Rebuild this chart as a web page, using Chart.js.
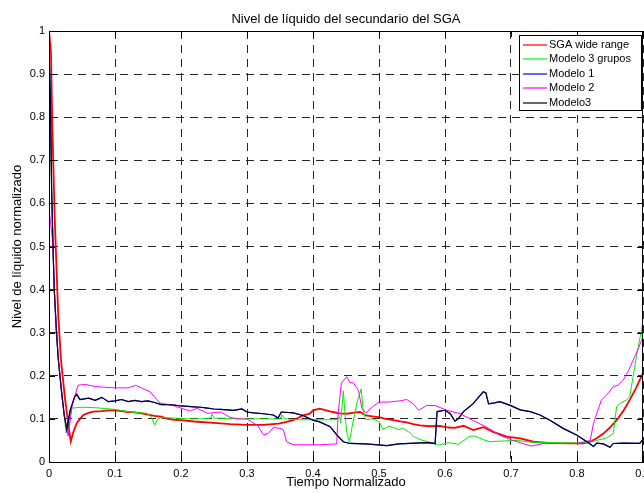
<!DOCTYPE html>
<html>
<head>
<meta charset="utf-8">
<script src="https://cdn.jsdelivr.net/npm/chart.js@4.4.0/dist/chart.umd.min.js"></script>
<style>
html,body{margin:0;padding:0;background:#fff;}
#wrap{width:644px;height:493px;position:relative;}
</style>
</head>
<body>
<div id="wrap"><canvas id="c" width="644" height="493"></canvas></div>
<script>
// ---- Data ----
const chartTitle = 'Nivel de líquido del secundario del SGA';
const xTitle = 'Tiempo Normalizado';
const yTitle = 'Nivel de líquido normalizado';
const seriesNames = ['SGA wide range', 'Modelo 3 grupos', 'Modelo 1', 'Modelo 2', 'Modelo3'];
const xTicks = [0, 0.1, 0.2, 0.3, 0.4, 0.5, 0.6, 0.7, 0.8, 0.9];
const yTicks = [0, 0.1, 0.2, 0.3, 0.4, 0.5, 0.6, 0.7, 0.8, 0.9, 1];

const redT = [0, 0.0015, 0.003, 0.005, 0.009, 0.014, 0.018, 0.024, 0.03, 0.033, 0.037, 0.042, 0.047, 0.052, 0.06, 0.067, 0.08, 0.09, 0.1, 0.11, 0.12, 0.13, 0.14, 0.15, 0.16, 0.17, 0.18, 0.19, 0.2, 0.22, 0.25, 0.275, 0.3, 0.325, 0.348, 0.36, 0.37, 0.385, 0.395, 0.4, 0.41, 0.42, 0.43, 0.44, 0.451, 0.46, 0.471, 0.48, 0.49, 0.5, 0.51, 0.522, 0.532, 0.542, 0.552, 0.562, 0.577, 0.592, 0.605, 0.615, 0.628, 0.643, 0.658, 0.673, 0.693, 0.714, 0.734, 0.76, 0.79, 0.81, 0.82, 0.83, 0.84, 0.85, 0.86, 0.87, 0.88, 0.89, 0.9];
const redV = [1.0, 1.0, 0.95, 0.78, 0.55, 0.34, 0.24, 0.15, 0.08, 0.048, 0.07, 0.09, 0.1, 0.109, 0.114, 0.117, 0.118, 0.12, 0.12, 0.118, 0.116, 0.115, 0.113, 0.11, 0.107, 0.105, 0.1, 0.098, 0.097, 0.094, 0.091, 0.088, 0.086, 0.086, 0.089, 0.093, 0.097, 0.108, 0.112, 0.12, 0.124, 0.12, 0.116, 0.113, 0.112, 0.114, 0.116, 0.108, 0.106, 0.104, 0.1, 0.097, 0.094, 0.092, 0.088, 0.085, 0.083, 0.084, 0.08, 0.079, 0.084, 0.074, 0.081, 0.07, 0.059, 0.055, 0.047, 0.044, 0.043, 0.043, 0.047, 0.055, 0.066, 0.08, 0.097, 0.118, 0.144, 0.173, 0.207];

const greenT = [0, 0.002, 0.004, 0.0066, 0.008, 0.011, 0.014, 0.019, 0.022, 0.026, 0.03, 0.034, 0.05, 0.07, 0.085, 0.1, 0.123, 0.148, 0.155, 0.16, 0.165, 0.17, 0.19, 0.21, 0.23, 0.245, 0.247, 0.25, 0.3, 0.35, 0.353, 0.357, 0.38, 0.43, 0.436, 0.44, 0.442, 0.444, 0.446, 0.448, 0.451, 0.455, 0.459, 0.463, 0.467, 0.471, 0.473, 0.476, 0.48, 0.49, 0.5, 0.506, 0.515, 0.522, 0.53, 0.536, 0.545, 0.552, 0.562, 0.577, 0.59, 0.605, 0.62, 0.638, 0.645, 0.658, 0.668, 0.69, 0.71, 0.73, 0.76, 0.8, 0.82, 0.83, 0.845, 0.855, 0.86, 0.865, 0.875, 0.88, 0.885, 0.89, 0.9];
const greenV = [0.95, 0.85, 0.63, 0.47, 0.40, 0.31, 0.24, 0.16, 0.12, 0.068, 0.08, 0.125, 0.127, 0.126, 0.124, 0.122, 0.116, 0.113, 0.105, 0.086, 0.1, 0.103, 0.102, 0.1, 0.1, 0.102, 0.112, 0.102, 0.1, 0.1, 0.109, 0.1, 0.098, 0.098, 0.098, 0.105, 0.09, 0.13, 0.165, 0.12, 0.07, 0.047, 0.08, 0.11, 0.14, 0.159, 0.17, 0.12, 0.098, 0.1, 0.094, 0.075, 0.083, 0.08, 0.075, 0.078, 0.07, 0.06, 0.052, 0.046, 0.039, 0.045, 0.041, 0.06, 0.06, 0.052, 0.047, 0.049, 0.05, 0.046, 0.045, 0.044, 0.046, 0.05, 0.056, 0.066, 0.128, 0.136, 0.144, 0.152, 0.198, 0.244, 0.325];

const model3T = [0, 0.002, 0.004, 0.0066, 0.008, 0.011, 0.014, 0.019, 0.023, 0.027, 0.032, 0.039, 0.042, 0.047, 0.06, 0.07, 0.08, 0.09, 0.1, 0.11, 0.12, 0.13, 0.14, 0.15, 0.16, 0.17, 0.18, 0.19, 0.2, 0.21, 0.22, 0.23, 0.24, 0.25, 0.26, 0.27, 0.28, 0.292, 0.3, 0.31, 0.325, 0.34, 0.347, 0.352, 0.37, 0.385, 0.4, 0.41, 0.426, 0.436, 0.446, 0.456, 0.48, 0.512, 0.53, 0.572, 0.585, 0.588, 0.6, 0.608, 0.615, 0.62, 0.628, 0.637, 0.643, 0.65, 0.658, 0.662, 0.666, 0.675, 0.683, 0.698, 0.714, 0.729, 0.744, 0.759, 0.779, 0.8, 0.815, 0.825, 0.83, 0.84, 0.85, 0.855, 0.87, 0.895, 0.9];
const model3V = [0.955, 0.85, 0.63, 0.47, 0.40, 0.31, 0.24, 0.164, 0.11, 0.075, 0.12, 0.152, 0.157, 0.145, 0.148, 0.143, 0.15, 0.14, 0.142, 0.145, 0.14, 0.143, 0.14, 0.142, 0.138, 0.133, 0.133, 0.132, 0.13, 0.129, 0.128, 0.127, 0.125, 0.123, 0.122, 0.121, 0.12, 0.123, 0.116, 0.114, 0.112, 0.109, 0.102, 0.116, 0.114, 0.108, 0.097, 0.093, 0.082, 0.063, 0.047, 0.043, 0.042, 0.038, 0.042, 0.045, 0.043, 0.117, 0.12, 0.112, 0.095, 0.1, 0.117, 0.128, 0.136, 0.149, 0.163, 0.16, 0.135, 0.137, 0.14, 0.132, 0.121, 0.117, 0.109, 0.097, 0.078, 0.062, 0.047, 0.036, 0.044, 0.042, 0.034, 0.043, 0.044, 0.043, 0.052];

const model1T = [0, 0.002, 0.004, 0.0066, 0.008, 0.011, 0.014, 0.019, 0.023, 0.027, 0.032, 0.039, 0.042, 0.047, 0.06, 0.07, 0.08, 0.09, 0.1, 0.11, 0.12, 0.13, 0.14, 0.15, 0.16, 0.17, 0.18, 0.19, 0.2, 0.21, 0.22, 0.23, 0.24, 0.25, 0.26, 0.27, 0.28, 0.292, 0.3, 0.31, 0.325, 0.34, 0.347, 0.352, 0.37, 0.385, 0.4, 0.41, 0.426, 0.436, 0.446, 0.456, 0.48, 0.512, 0.53, 0.572, 0.585, 0.588, 0.6, 0.608, 0.615, 0.62, 0.628, 0.637, 0.643, 0.65, 0.658, 0.662, 0.666, 0.675, 0.683, 0.698, 0.714, 0.729, 0.744, 0.759, 0.779, 0.8, 0.815, 0.825, 0.83, 0.84, 0.85, 0.855, 0.87, 0.895, 0.9];
const model1V = [0.96, 0.85, 0.63, 0.47, 0.40, 0.31, 0.24, 0.164, 0.11, 0.075, 0.12, 0.152, 0.157, 0.145, 0.148, 0.143, 0.15, 0.14, 0.142, 0.145, 0.14, 0.143, 0.14, 0.142, 0.138, 0.133, 0.133, 0.132, 0.13, 0.129, 0.128, 0.127, 0.125, 0.123, 0.122, 0.121, 0.12, 0.123, 0.116, 0.114, 0.112, 0.109, 0.102, 0.116, 0.114, 0.108, 0.097, 0.093, 0.082, 0.063, 0.047, 0.043, 0.042, 0.038, 0.042, 0.045, 0.043, 0.117, 0.12, 0.112, 0.095, 0.1, 0.117, 0.128, 0.136, 0.149, 0.163, 0.16, 0.135, 0.137, 0.14, 0.132, 0.121, 0.117, 0.109, 0.097, 0.078, 0.062, 0.047, 0.036, 0.044, 0.042, 0.034, 0.043, 0.044, 0.043, 0.052];

const model2T = [0, 0.0005, 0.005, 0.0066, 0.008, 0.011, 0.014, 0.019, 0.023, 0.029, 0.035, 0.044, 0.055, 0.07, 0.08, 0.1, 0.12, 0.131, 0.14, 0.153, 0.168, 0.188, 0.2, 0.214, 0.224, 0.24, 0.26, 0.274, 0.285, 0.3, 0.307, 0.316, 0.325, 0.332, 0.34, 0.35, 0.355, 0.36, 0.37, 0.39, 0.41, 0.436, 0.438, 0.443, 0.451, 0.456, 0.461, 0.466, 0.469, 0.474, 0.48, 0.491, 0.5, 0.515, 0.532, 0.542, 0.552, 0.56, 0.572, 0.585, 0.603, 0.623, 0.643, 0.663, 0.683, 0.703, 0.724, 0.731, 0.75, 0.8, 0.82, 0.825, 0.83, 0.837, 0.847, 0.855, 0.862, 0.87, 0.878, 0.885, 0.892, 0.9];
const model2V = [0.64, 0.58, 0.52, 0.47, 0.40, 0.31, 0.24, 0.164, 0.11, 0.06, 0.13, 0.178, 0.18, 0.175, 0.174, 0.172, 0.172, 0.178, 0.172, 0.163, 0.137, 0.131, 0.125, 0.118, 0.125, 0.113, 0.116, 0.104, 0.1, 0.1, 0.093, 0.085, 0.063, 0.066, 0.08, 0.078, 0.075, 0.047, 0.04, 0.04, 0.04, 0.042, 0.111, 0.183, 0.198, 0.184, 0.184, 0.173, 0.165, 0.125, 0.114, 0.129, 0.139, 0.139, 0.142, 0.145, 0.135, 0.12, 0.131, 0.131, 0.12, 0.112, 0.096, 0.081, 0.062, 0.05, 0.04, 0.037, 0.043, 0.043, 0.05, 0.09, 0.113, 0.144, 0.159, 0.175, 0.178, 0.19, 0.212, 0.236, 0.26, 0.29];

// ---- Build chart ----
const FONT = '"Liberation Sans", Arial, Helvetica, sans-serif';
function pts(t, v) { return t.map((x, i) => ({ x: x, y: v[i] })); }

const seriesColors = ['#ff0000', '#00ff00', '#0000ff', '#ff00ff', '#000000'];

const datasets = [
  { label: seriesNames[0], data: pts(redT, redV), borderColor: '#ff0000', borderWidth: 1.8, order: 4 },
  { label: seriesNames[1], data: pts(greenT, greenV), borderColor: '#00ee00', borderWidth: 1, order: 3 },
  { label: seriesNames[2], data: pts(model1T, model1V), borderColor: '#0000ff', borderWidth: 1.2, order: 2 },
  { label: seriesNames[3], data: pts(model2T, model2V), borderColor: '#ff00ff', borderWidth: 1, order: 1 },
  { label: seriesNames[4], data: pts(model3T, model3V), borderColor: 'rgba(0,0,0,0.8)', borderWidth: 1.2, order: 0 }
].map(d => Object.assign(d, { pointRadius: 0, tension: 0, fill: false, spanGaps: true }));

function fmt(v) {
  if (Math.abs(v) < 1e-9) return '0';
  if (Math.abs(v - 1) < 1e-9) return '1';
  return v.toFixed(1);
}

const decor = {
  id: 'decor',
  afterDraw(chart) {
    const ctx = chart.ctx;
    const a = chart.chartArea;
    const xs = chart.scales.x, ys = chart.scales.y;
    ctx.save();
    ctx.setLineDash([]);
    // inward tick marks (MATLAB style)
    ctx.strokeStyle = '#000';
    ctx.lineWidth = 1;
    ctx.beginPath();
    xTicks.forEach(v => {
      const px = Math.round(xs.getPixelForValue(v)) + 0.5;
      ctx.moveTo(px, a.bottom); ctx.lineTo(px, a.bottom - 6);
      ctx.moveTo(px, a.top); ctx.lineTo(px, a.top + 6);
    });
    yTicks.forEach(v => {
      const py = Math.round(ys.getPixelForValue(v)) + 0.5;
      ctx.moveTo(a.left, py); ctx.lineTo(a.left + 6, py);
      ctx.moveTo(a.right, py); ctx.lineTo(a.right - 6, py);
    });
    ctx.stroke();
    // frame
    ctx.strokeRect(Math.round(a.left) + 0.5, Math.round(a.top) + 0.5, Math.round(a.right - a.left) - 1, Math.round(a.bottom - a.top));
    // titles
    ctx.fillStyle = '#000';
    ctx.font = '13px ' + FONT;
    ctx.textAlign = 'center';
    ctx.textBaseline = 'middle';
    const cx = (a.left + a.right) / 2;
    ctx.fillText(chartTitle, cx, 19);
    ctx.fillText(xTitle, cx, 482);
    ctx.save();
    ctx.translate(17, (a.top + a.bottom) / 2);
    ctx.rotate(-Math.PI / 2);
    ctx.fillText(yTitle, 0, 0);
    ctx.restore();
    // legend
    const bx = 519.5, by = 35.5, bw = 122, bh = 75;
    ctx.fillStyle = '#fff';
    ctx.fillRect(bx, by, bw, bh);
    ctx.strokeStyle = '#000';
    ctx.lineWidth = 1;
    ctx.strokeRect(bx, by, bw, bh);
    ctx.font = '11px ' + FONT;
    ctx.textAlign = 'left';
    seriesNames.forEach((name, i) => {
      const y = 44.5 + i * 14.6;
      ctx.strokeStyle = seriesColors[i];
      ctx.lineWidth = 1.2;
      ctx.beginPath();
      ctx.moveTo(523, Math.round(y));
      ctx.lineTo(547, Math.round(y));
      ctx.stroke();
      ctx.fillStyle = '#000';
      ctx.fillText(name, 549, y);
    });
    ctx.restore();
  }
};

new Chart(document.getElementById('c'), {
  type: 'line',
  data: { datasets: datasets },
  options: {
    responsive: false,
    animation: false,
    devicePixelRatio: 1,
    layout: { padding: { top: 31, right: 1, left: 0, bottom: 0 } },
    plugins: { legend: { display: false }, tooltip: { enabled: false }, title: { display: false } },
    scales: {
      x: {
        type: 'linear', min: 0, max: 0.9,
        afterBuildTicks: s => { s.ticks = xTicks.map(v => ({ value: v })); },
        afterFit: s => { s.height = 31; s.paddingLeft = 0; s.paddingRight = 0; },
        ticks: { padding: 5, color: '#000', font: { family: FONT, size: 11 }, maxRotation: 0, autoSkip: false, callback: v => fmt(v) },
        grid: { color: '#262626', lineWidth: 1, drawTicks: false },
        border: { display: true, color: '#000', width: 1, dash: [8, 6] }
      },
      y: {
        type: 'linear', min: 0, max: 1,
        afterBuildTicks: s => { s.ticks = yTicks.map(v => ({ value: v })); },
        afterFit: s => { s.width = 49; s.paddingTop = 0; s.paddingBottom = 0; },
        ticks: { padding: 4, color: '#000', font: { family: FONT, size: 11 }, autoSkip: false, callback: v => fmt(v) },
        grid: { color: '#262626', lineWidth: 1, drawTicks: false },
        border: { display: true, color: '#000', width: 1, dash: [8, 6] }
      }
    }
  },
  plugins: [decor]
});
</script>
</body>
</html>
